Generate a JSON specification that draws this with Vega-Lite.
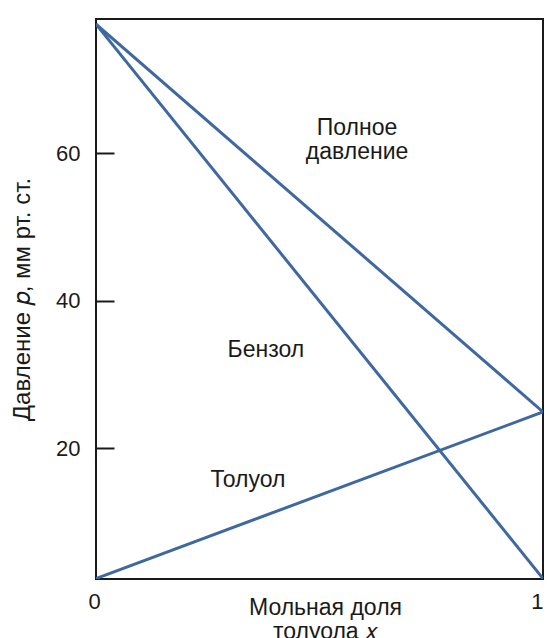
{
  "$schema": "https://vega.github.io/schema/vega-lite/v6.json",
  "autosize": "none",
  "width": 447,
  "height": 560,
  "padding": {"left": 96, "top": 19, "right": 7, "bottom": 59},
  "background": "white",
  "config": {
    "view": {"stroke": "#1a1a1a", "strokeWidth": 2},
    "font": "Liberation Sans"
  },
  "datasets": {
    "lines": [
      {"series": "Бензол", "x": 0, "p": 77.5},
      {"series": "Бензол", "x": 1, "p": 2.3},
      {"series": "Толуол", "x": 0, "p": 2.3},
      {"series": "Толуол", "x": 1, "p": 24.9},
      {"series": "Полное давление", "x": 0, "p": 77.5},
      {"series": "Полное давление", "x": 1, "p": 24.9}
    ],
    "labels": [
      {"label": ["Полное", "давление"], "x": 0.584, "p": 63.4},
      {"label": ["Бензол"], "x": 0.38, "p": 33.3},
      {"label": ["Толуол"], "x": 0.34, "p": 15.7}
    ]
  },
  "layer": [
    {
      "data": {"name": "lines"},
      "mark": {"type": "line", "color": "#3f68a0", "strokeWidth": 3, "clip": true},
      "encoding": {
        "x": {
          "field": "x", "type": "quantitative",
          "scale": {"domain": [0, 1], "nice": false, "zero": false},
          "axis": {
            "values": [0, 1], "format": "d", "ticks": false, "grid": false, "domain": false,
            "labelFontSize": 22, "labelColor": "#1a1a1a", "labelPadding": 12,
            "labelOffset": {"condition": {"test": "datum.value === 0", "value": -8}, "value": 0},
            "title": ["Мольная доля", "толуола 𝑥"],
            "titleFontSize": 23, "titleFontWeight": "normal", "titleColor": "#1a1a1a",
            "titleLineHeight": 24, "titleX": 229, "titleY": 28, "titleBaseline": "middle"
          }
        },
        "y": {
          "field": "p", "type": "quantitative",
          "scale": {"domain": [2.24, 78.2], "nice": false, "zero": false},
          "axis": {
            "values": [20, 40, 60], "grid": false, "domain": false,
            "tickSize": -18, "tickWidth": 2, "tickColor": "#1a1a1a",
            "labelFontSize": 22, "labelColor": "#1a1a1a", "labelPadding": 34,
            "title": "Давление 𝑝, мм рт. ст.",
            "titleFontSize": 24, "titleFontWeight": "normal", "titleColor": "#1a1a1a",
            "titlePadding": 21
          }
        },
        "detail": {"field": "series"}
      }
    },
    {
      "data": {"name": "labels"},
      "mark": {"type": "text", "fontSize": 23, "color": "#1a1a1a", "align": "center", "baseline": "middle", "lineHeight": 24},
      "encoding": {
        "x": {"field": "x", "type": "quantitative"},
        "y": {"field": "p", "type": "quantitative"},
        "text": {"field": "label"}
      }
    }
  ]
}
